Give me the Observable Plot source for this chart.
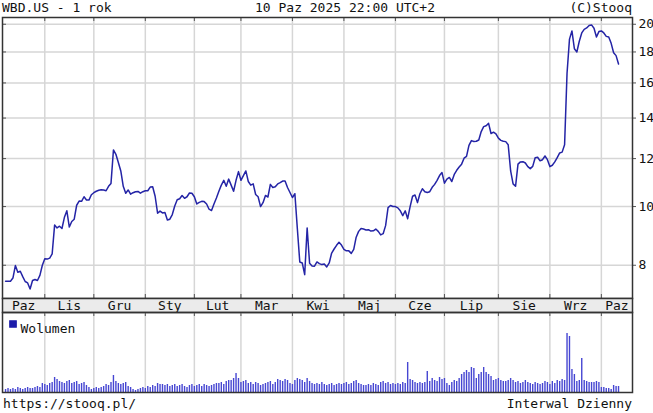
<!DOCTYPE html>
<html><head><meta charset="utf-8">
<script src="https://cdn.jsdelivr.net/npm/d3@7"></script>
<script src="https://cdn.jsdelivr.net/npm/@observablehq/plot@0.6"></script>
<style>
body{margin:0;background:#fff;}
#chart{position:relative;width:653px;height:413px;font-family:"DejaVu Sans Mono",monospace;font-size:13px;color:#111;overflow:hidden;}
.t{position:absolute;white-space:pre;line-height:15px;}
#chart svg{position:absolute;left:0;overflow:visible;}
</style></head><body>
<div id="chart">
  <div class="t" style="left:2px;top:0px;">WBD.US - 1 rok</div>
  <div class="t" style="left:255px;top:0px;">10 Paz 2025 22:00 UTC+2</div>
  <div class="t" style="right:21px;top:0px;">(C)Stooq</div>
  <div class="t" style="left:3px;top:396px;">https://stooq.pl/</div>
  <div class="t" style="right:21px;top:396px;">Interwal Dzienny</div>
</div>
<script>
// ---- data ----
const firstDay = "2024-10-10";
const lastDay = "2025-10-10";
const holidays = ["2024-11-28","2024-12-25","2025-01-01","2025-01-09","2025-01-20","2025-02-17","2025-04-18","2025-05-26","2025-06-19","2025-07-04","2025-09-01"];
const monthNames = ["Sty","Lut","Mar","Kwi","Maj","Cze","Lip","Sie","Wrz","Paz","Lis","Gru"];
const priceTicks = [8,10,12,14,16,18,20];
// daily close, one per trading day
const close = [
 7.53,7.53,7.53,7.62,7.99,7.79,7.82,7.66,7.52,7.48,7.31,7.55,7.58,7.55,7.70,8.00,
 8.20,8.19,8.22,8.35,9.32,9.22,9.28,9.20,9.60,9.84,9.25,9.45,9.53,10.05,10.21,10.20,10.38,10.25,10.25,10.46,
 10.54,10.60,10.64,10.66,10.65,10.62,10.80,10.92,12.40,12.20,11.82,11.45,10.80,10.52,10.65,10.48,10.54,10.58,10.59,10.52,10.58,
 10.62,10.62,10.77,10.78,10.40,9.75,9.83,9.76,9.78,9.50,9.53,9.70,10.02,10.26,10.30,10.43,10.32,10.38,10.53,10.52,
 10.38,10.10,10.16,10.20,10.19,10.10,9.90,9.85,10.10,10.33,10.60,10.85,11.05,10.80,11.10,10.85,10.60,11.05,11.42,
 11.05,11.25,11.45,11.00,10.85,10.90,10.47,10.38,10.00,10.15,10.43,10.37,10.88,10.75,10.78,10.90,10.95,11.02,11.02,10.75,10.55,
 10.35,10.50,9.20,8.10,8.07,7.72,9.22,8.06,7.98,7.97,8.10,8.05,8.02,8.04,7.95,8.07,8.38,8.51,8.63,8.73,8.64,
 8.50,8.45,8.45,8.37,8.50,8.90,9.10,9.20,9.18,9.15,9.16,9.11,9.12,9.18,9.10,8.98,9.02,9.30,9.96,10.04,10.00,
 10.00,9.95,9.84,9.66,9.84,9.55,10.00,10.40,10.45,10.15,10.50,10.70,10.58,10.55,10.58,10.76,10.88,11.05,11.25,11.38,
 10.93,11.10,11.17,11.00,11.30,11.48,11.62,11.75,12.02,12.10,12.62,12.85,12.81,12.82,12.88,13.30,13.55,13.60,13.72,13.20,13.27,13.18,
 12.97,12.86,12.82,12.80,12.65,11.45,10.90,10.80,11.75,11.85,11.86,11.80,11.64,11.55,11.65,12.04,12.06,11.90,11.95,12.12,11.95,
 11.64,11.70,11.85,12.05,12.26,12.30,12.65,16.60,18.90,19.50,18.22,18.00,18.75,19.35,19.62,19.72,19.90,19.95,19.70,19.05,19.45,
 19.50,19.35,19.10,19.05,18.60,17.95,17.75,17.20
];
// daily volume, millions of shares
const volume = [
 12,16,12,16,12,20,16,12,16,20,16,16,20,24,20,36,
 32,28,36,40,60,52,44,40,36,44,48,36,40,44,32,36,40,28,20,12,
 16,20,16,20,24,32,28,40,68,44,36,32,36,40,24,20,12,8,12,16,20,
 16,24,20,28,24,36,32,32,28,32,24,28,32,24,28,32,24,20,28,32,
 24,28,32,24,32,28,24,28,32,36,36,40,32,44,48,48,56,76,56,
 40,44,48,36,40,32,40,36,28,32,36,40,44,32,40,52,48,44,52,48,36,
 32,48,56,52,48,40,56,44,36,32,36,32,40,32,28,32,36,28,32,36,32,
 36,40,32,36,44,48,36,32,28,28,32,28,36,32,28,40,44,36,40,32,36,
 32,36,32,40,36,120,52,48,40,36,40,36,40,84,44,56,48,44,60,52,
 56,36,28,40,48,44,56,72,80,88,80,100,96,56,72,80,100,80,72,64,48,52,
 56,48,44,44,48,56,48,40,44,36,40,48,40,36,32,40,36,32,36,44,40,
 32,44,36,48,44,52,48,236,224,92,72,44,48,136,48,44,40,40,40,44,40,
 20,20,16,16,12,28,24,24
];

// ---- trading-day calendar ----
const hol = new Set(holidays);
const days = [];
for (let d = new Date(firstDay + "T00:00:00Z"); d <= new Date(lastDay + "T00:00:00Z"); d = new Date(d.getTime() + 864e5)) {
  const wd = d.getUTCDay(), iso = d.toISOString().slice(0,10);
  if (wd !== 0 && wd !== 6 && !hol.has(iso)) days.push(d);
}
if (days.length !== close.length || days.length !== volume.length) console.error("length mismatch", days.length, close.length, volume.length);

const priceData = days.map((d,i) => ({i, date:d, v: close[i]}));
const volData = days.map((d,i) => ({i, date:d, v: volume[i]}));
const monthStarts = [];
days.forEach((d,i) => { if (i > 0 && d.getUTCMonth() !== days[i-1].getUTCMonth()) monthStarts.push(i); });

const W = 653, ML = 2, MR = 21;
const xDomain = [-1.25, 255.7];
const bounds = [xDomain[0], ...monthStarts, xDomain[1]];
const monthLabels = bounds.slice(0,-1).map((b,k) => {
  const idx = k === 0 ? 0 : monthStarts[k-1];
  return {mid: (b + bounds[k+1]) / 2, label: monthNames[days[idx].getUTCMonth()]};
});

const font = {fontFamily: "DejaVu Sans Mono, monospace", fontSize: "13px", color: "#111", background: "transparent", overflow: "visible"};
const gridC = "#d6d6d6", frameC = "#333", tickC = "#555";
const chart = document.getElementById("chart");

// price panel
const PH = 283, PInner = PH - 2, IW = W - ML - MR;
const price = Plot.plot({
  width: W, height: PH, marginLeft: ML, marginRight: MR, marginTop: 1, marginBottom: 1,
  style: font,
  x: {domain: xDomain, axis: null},
  y: {type: "log", domain: [7.05, 20.52], axis: null},
  marks: [
    Plot.gridX(monthStarts, {stroke: gridC, strokeOpacity: 1, strokeWidth: 1.5}),
    Plot.gridY(priceTicks, {stroke: gridC, strokeOpacity: 1, strokeWidth: 1.5}),
    Plot.line(priceData, {x: "i", y: "v", stroke: "#2424a6", strokeWidth: 1.5}),
    Plot.ruleX(monthStarts, {x: d => d, insetBottom: PInner - 4, stroke: tickC}),
    Plot.ruleX(monthStarts, {x: d => d, insetTop: PInner - 4, stroke: tickC}),
    Plot.ruleY(priceTicks, {y: d => d, insetRight: IW - 4, stroke: tickC}),
    Plot.ruleY(priceTicks, {y: d => d, insetLeft: IW, insetRight: -4, stroke: tickC}),
    Plot.text(priceTicks, {y: d => d, text: d => String(d), frameAnchor: "right", textAnchor: "start", dx: 6, fill: "#111", fontSize: 13}),
    Plot.frame({stroke: frameC, strokeWidth: 1.5})
  ]
});
price.style.top = "16px";
chart.appendChild(price);

// month band
const band = Plot.plot({
  width: W, height: 14, marginLeft: ML, marginRight: MR, marginTop: 0, marginBottom: 0,
  style: font,
  x: {domain: xDomain, axis: null},
  marks: [
    Plot.frame({fill: "#ebebeb", stroke: frameC, strokeWidth: 1.5}),
    Plot.text(monthLabels, {x: "mid", text: "label", fill: "#111", fontSize: 13})
  ]
});
band.style.top = "298px";
chart.appendChild(band);

// volume panel
const VH = 81, VInner = VH - 1;
const vol = Plot.plot({
  width: W, height: VH, marginLeft: ML, marginRight: MR, marginTop: 0, marginBottom: 1,
  style: font,
  x: {domain: xDomain, axis: null},
  y: {domain: [0, 320], axis: null},
  marks: [
    Plot.gridX(monthStarts, {stroke: gridC, strokeOpacity: 1, strokeWidth: 1.5}),
    Plot.ruleX(volData, {x: "i", y1: 0, y2: "v", stroke: "#4646d2", strokeWidth: 1.4}),
    Plot.ruleX(monthStarts, {x: d => d, insetBottom: VInner - 4, stroke: tickC}),
    Plot.dot(["Wolumen"], {frameAnchor: "top-left", dx: 10.5, dy: 11.5, symbol: "square", r: 3.5, fill: "#1c1caa", stroke: "#1c1caa"}),
    Plot.text(["Wolumen"], {frameAnchor: "top-left", dx: 18, dy: 11.5, text: d => d, textAnchor: "start", fill: "#111", fontSize: 13}),
    Plot.frame({stroke: frameC, strokeWidth: 1.5})
  ]
});
vol.style.top = "312px";
chart.appendChild(vol);
</script>
</body></html>
